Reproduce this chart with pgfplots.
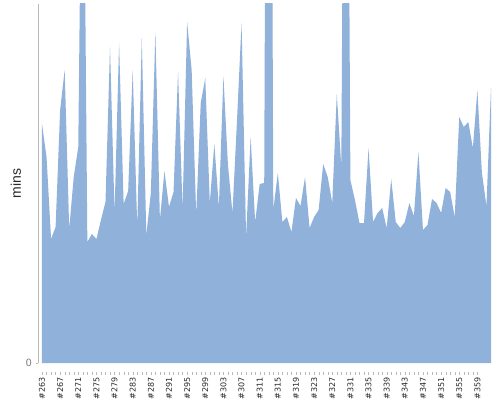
\documentclass[border=0pt]{standalone}
\usepackage{pgfplots}
\pgfplotsset{compat=1.18}
\usepackage{fontspec}
\setmainfont{Liberation Sans}
\newfontfamily\dejavu{DejaVu Sans}
\definecolor{areablue}{RGB}{143,177,218}
\definecolor{axgray}{RGB}{185,185,185}
\definecolor{labgray}{RGB}{40,40,40}
\pgfplotstableread{
x y
0 239
1 206
2 124
3 136
4 253
5 293
6 134
7 186
8 216
9 650
10 121
11 129
12 124
13 143
14 161
15 316
16 150
17 320
18 159
19 172
20 293
21 136
22 325
23 128
24 170
25 331
26 143
27 192
28 156
29 171
30 291
31 154
32 341
33 293
34 148
35 260
36 285
37 160
38 219
39 156
40 287
41 198
42 150
43 243
44 340
45 126
46 226
47 141
48 179
49 180
50 1400
51 153
52 190
53 141
54 146
55 131
56 165
57 157
58 186
59 135
60 146
61 153
62 199
63 186
64 160
65 269
66 196
67 1000
68 183
69 163
70 140
71 140
72 215
73 141
74 150
75 155
76 135
77 184
78 141
79 135
80 141
81 160
82 147
83 211
84 133
85 138
86 164
87 160
88 150
89 175
90 171
91 146
92 246
93 236
94 241
95 215
96 273
97 190
98 157
99 275
}\datatable
\begin{document}
\begin{tikzpicture}
\useasboundingbox (0,0) rectangle (500pt,400pt);
\begin{axis}[
  at={(38.5pt,37pt)}, anchor=south west,
  scale only axis, width=452.5pt, height=359pt,
  xmin=-0.77, xmax=99, ymin=0, ymax=359,
  axis x line=bottom, axis y line=left,
  axis line style={-},
  x axis line style={draw=none},
  y axis line style={draw=axgray},
  tick align=outside,
  major tick length=3pt, minor tick length=2.5pt,
  xtick={0,4,...,96},
  minor x tick num=3,
  xticklabels={\#263,\#267,\#271,\#275,\#279,\#283,\#287,\#291,\#295,\#299,\#303,\#307,\#311,\#315,\#319,\#323,\#327,\#331,\#335,\#339,\#343,\#347,\#351,\#355,\#359},
  x tick style={yshift=-9pt, draw=axgray},
  xticklabel style={rotate=90, anchor=east, inner sep=0pt, text=labgray, font=\dejavu\fontsize{8}{9}\selectfont},
  xticklabel shift=11pt,
  ytick={0}, yticklabels={0},
  y tick style={draw=axgray},
  yticklabel style={text=gray, font=\dejavu\fontsize{10}{12}\selectfont},
  ylabel={mins},
  every axis y label/.style={at={(axis description cs:-0.05,0.5)}, rotate=90, anchor=center, font=\fontsize{14}{16}\selectfont, text=labgray},
]
\addplot[fill=areablue, draw=none] table[x=x, y=y] {\datatable} \closedcycle;
\end{axis}
\end{tikzpicture}
\end{document}
